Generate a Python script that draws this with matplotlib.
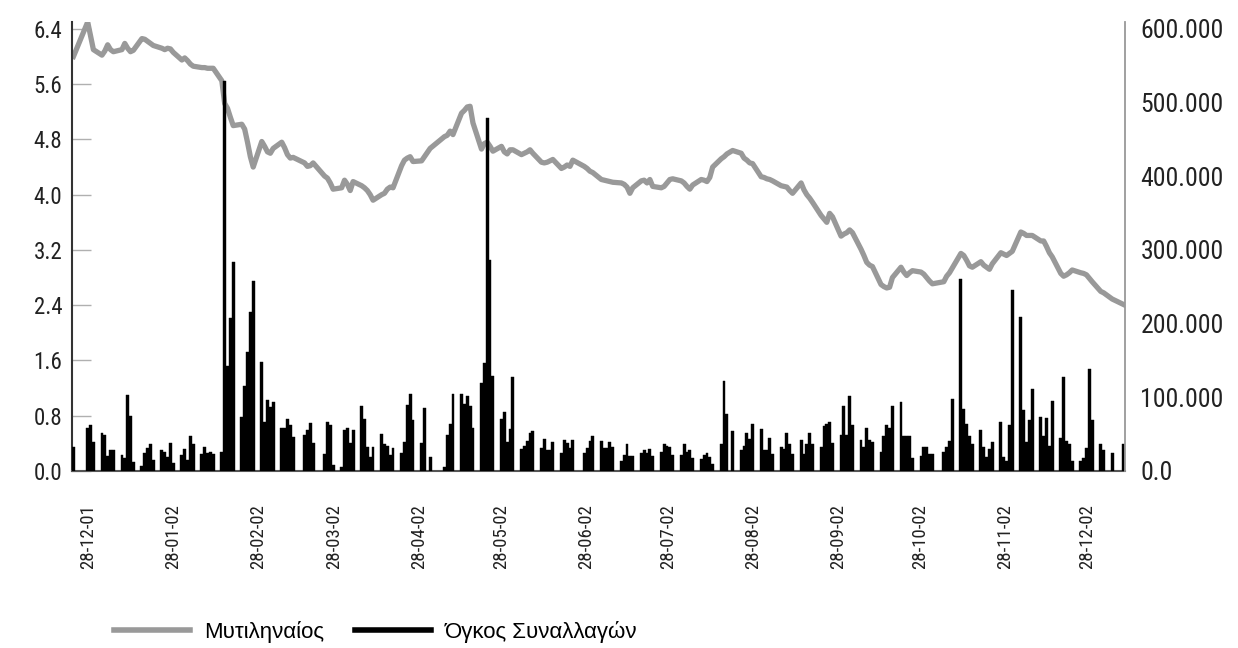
import numpy as np
import pandas as pd
import matplotlib
matplotlib.use("Agg")
import matplotlib.pyplot as plt
import matplotlib.dates as mdates
from matplotlib import font_manager as fm
from matplotlib.lines import Line2D
from matplotlib.ticker import FuncFormatter

# trading days (Athens exchange), holidays left out
holidays = ["2001-12-31", "2002-01-01", "2002-03-18", "2002-03-25", "2002-05-01",
            "2002-05-03", "2002-05-06", "2002-06-24", "2002-08-15", "2002-10-28",
            "2002-12-25", "2002-12-26", "2002-12-30"]
days = pd.bdate_range("2001-12-28", "2002-12-31").difference(pd.to_datetime(holidays))

# closing price (euro), one row per week
price = [
    6.00,
    6.50, 6.30, 6.10,
    6.02, 6.08, 6.17, 6.10, 6.07,
    6.10, 6.19, 6.12, 6.07, 6.09,
    6.26, 6.25, 6.22, 6.19, 6.16,
    6.12, 6.10, 6.12, 6.11, 6.06,
    5.95, 5.98, 5.94, 5.89, 5.86,
    5.84, 5.84, 5.83, 5.83, 5.83,
    5.65, 5.32, 5.25, 5.12, 5.00,
    5.02, 4.95, 4.76, 4.55, 4.40,
    4.77, 4.70, 4.62, 4.60, 4.67,
    4.76, 4.68, 4.58, 4.53, 4.54,
    4.46, 4.41, 4.42, 4.46,
    4.27, 4.24, 4.17, 4.08,
    4.10, 4.21, 4.15, 4.06, 4.19,
    4.13, 4.10, 4.06, 4.00, 3.92,
    4.00, 4.02, 4.08, 4.11, 4.10,
    4.42, 4.50, 4.53, 4.55, 4.48,
    4.49, 4.55, 4.67,
    4.84, 4.86, 4.92, 4.87,
    5.18, 5.22, 5.27, 5.28, 5.04,
    4.66, 4.74, 4.76, 4.70, 4.63,
    4.70, 4.62, 4.59, 4.65, 4.65,
    4.58, 4.60, 4.62, 4.65, 4.60,
    4.47, 4.46, 4.47, 4.49, 4.51,
    4.38, 4.40, 4.43, 4.41, 4.50,
    4.41, 4.38, 4.34, 4.32,
    4.22, 4.21, 4.20, 4.19, 4.18,
    4.17, 4.15, 4.11, 4.02, 4.10,
    4.20, 4.21, 4.17, 4.22, 4.12,
    4.10, 4.12, 4.17, 4.22, 4.23,
    4.20, 4.17, 4.12, 4.08, 4.14,
    4.22, 4.21, 4.19, 4.25, 4.40,
    4.52, 4.55, 4.59, 4.64,
    4.60, 4.53, 4.50, 4.46, 4.45,
    4.26, 4.25, 4.23, 4.22, 4.20,
    4.13, 4.12, 4.11, 4.06, 4.02,
    4.17, 4.07, 4.00, 3.95, 3.89,
    3.70, 3.65, 3.60, 3.73, 3.68,
    3.40, 3.43, 3.45, 3.49, 3.45,
    3.21, 3.12, 3.02, 2.98, 2.96,
    2.70, 2.67, 2.65, 2.66, 2.80,
    2.95, 2.88, 2.83, 2.87, 2.90,
    2.88, 2.85, 2.80, 2.75, 2.71,
    2.74, 2.82, 2.87, 2.94,
    3.15, 3.12, 3.05, 2.97, 2.95,
    3.03, 2.98, 2.95, 2.92, 3.00,
    3.16, 3.14, 3.12, 3.15, 3.18,
    3.46, 3.44, 3.41, 3.41, 3.41,
    3.33, 3.33, 3.25, 3.16, 3.10,
    2.86, 2.82, 2.84, 2.87, 2.91,
    2.87, 2.86, 2.84, 2.79, 2.74,
    2.60, 2.58, 2.49,
    2.41,
]

# volume in thousands of shares
volume_k = [
    33,
    58, 63, 40,
    52, 49, 21, 29, 29,
    22, 17, 103, 74, 12,
    7, 25, 31, 36, 15,
    29, 26, 19, 38, 11,
    22, 30, 15, 47, 36,
    23, 32, 24, 26, 23,
    26, 529, 143, 207, 284,
    73, 115, 161, 216, 258,
    148, 66, 97, 87, 94,
    58, 58, 71, 63, 46,
    49, 56, 65, 38,
    23, 67, 62, 8,
    5, 56, 58, 38, 55,
    88, 71, 33, 19, 32,
    50, 37, 34, 22, 31,
    24, 40, 90, 104, 69,
    38, 85, 19,
    6, 49, 64, 104,
    104, 91, 102, 88, 59,
    120, 146, 479, 287, 129,
    70, 80, 40, 57, 127,
    30, 34, 41, 51, 54,
    31, 43, 29, 29, 39,
    25, 42, 38, 31, 42,
    24, 31, 41, 48,
    41, 31, 31, 40, 33,
    14, 22, 36, 20, 20,
    24, 28, 24, 30, 21,
    26, 37, 34, 33, 22,
    22, 36, 26, 29, 17,
    16, 22, 24, 19, 10,
    36, 122, 77, 54,
    29, 34, 52, 43, 64,
    57, 29, 28, 45, 23,
    32, 30, 52, 36, 23,
    42, 23, 36, 52, 36,
    33, 61, 64, 67, 38,
    49, 88, 49, 102, 63,
    42, 33, 58, 42, 40,
    26, 47, 63, 58, 88,
    93, 47, 48, 48, 17,
    20, 33, 33, 23, 23,
    26, 33, 41, 98,
    261, 84, 64, 48, 36,
    55, 33, 19, 30, 40,
    67, 19, 13, 62, 246,
    209, 83, 40, 69, 111,
    73, 47, 72, 34, 95,
    45, 127, 41, 36, 13,
    14, 17, 31, 138, 69,
    37, 29, 24,
    36,
]

month_ticks = pd.date_range("2001-12-28", periods=13, freq=pd.DateOffset(months=1))
price_ticks = np.arange(0, 6.41, 0.8)
volume_ticks = np.arange(0, 600001, 100000)

names = ["Μυτιληναίος", "Όγκος Συναλλαγών"]

# narrow font for the tick labels if there is one
avail = {f.name for f in fm.fontManager.ttflist}
narrow = next((n for n in ("Liberation Sans Narrow", "Roboto Condensed",
                           "DejaVu Sans Condensed", "Open Sans Condensed") if n in avail), "DejaVu Sans")

x = mdates.date2num(days)
vol = np.array(volume_k) * 1000

fig = plt.figure(figsize=(12.38, 6.48), dpi=100)
ax = fig.add_axes([72 / 1238, 1 - 471 / 648, 1053 / 1238, 449 / 648])

ax.plot(x + 0.5, price, color="#999999", lw=3.8, solid_joinstyle="round")
ax.set_xlim(x[0], x[-1] + 1)
ax.set_ylim(0, 6.5)
ax.set_yticks(price_ticks)
ax.yaxis.set_major_formatter(FuncFormatter(lambda v, _: f"{v:.1f}"))
ax.tick_params(axis="y", direction="in", length=14, width=1, color="#b0b0b0", pad=7)
ax.set_xticks([])
for lab in ax.get_yticklabels():
    lab.set_fontfamily(narrow)
    lab.set_fontsize(16.5)
    lab.set_color("#222222")

ax2 = ax.twinx()
ax2.bar(x, vol, width=1.0, align="edge", color="black", edgecolor="black", linewidth=0.3)
ax2.set_ylim(0, 6.5 / 6.4 * 600000)
ax2.set_yticks(volume_ticks)
ax2.yaxis.set_major_formatter(FuncFormatter(
    lambda v, _: "0.0" if v == 0 else f"{int(v):,}".replace(",", ".")))
ax2.tick_params(axis="y", length=0, pad=11)
for lab in ax2.get_yticklabels():
    lab.set_fontfamily(narrow)
    lab.set_fontsize(18.5)
    lab.set_color("#222222")

# date labels sit on their own scale, as in the original sheet
ax3 = ax.twiny()
lo = mdates.date2num(pd.Timestamp("2001-12-28")) - 5.84
ax3.set_xlim(lo, lo + 384.7)
ax3.set_xticks(mdates.date2num(month_ticks))
ax3.set_xticklabels([d.strftime("%d-%m-%y") for d in month_ticks],
                    rotation=90, fontfamily=narrow, fontsize=13.5, color="#222222")
ax3.xaxis.set_ticks_position("bottom")
ax3.xaxis.set_label_position("bottom")
ax3.tick_params(axis="x", length=0, pad=24)
for s in ax3.spines.values():
    s.set_visible(False)

for s in ("top", "right"):
    ax.spines[s].set_visible(False)
ax.spines["left"].set_color("#333333")
ax.spines["left"].set_linewidth(1.5)
ax.spines["bottom"].set_color("#555555")
ax.spines["bottom"].set_linewidth(1.5)
for s in ("top", "left", "bottom"):
    ax2.spines[s].set_visible(False)
ax2.spines["right"].set_color("#999999")
ax2.spines["right"].set_linewidth(1.3)

# one legend per entry so each sits where it does in the original
legend_colors = ["#999999", "black"]
legend_left = [114, 355]
for name, col, left in zip(names, legend_colors, legend_left):
    fig.legend([Line2D([], [], color=col, lw=4)], [name], loc="center left",
               bbox_to_anchor=(left / 1238, 1 - 632 / 648), frameon=False,
               borderpad=0, borderaxespad=0, handlelength=3.4, handletextpad=0.65,
               prop=dict(family="Liberation Sans", size=16))

fig.savefig("out.png", dpi=100)
